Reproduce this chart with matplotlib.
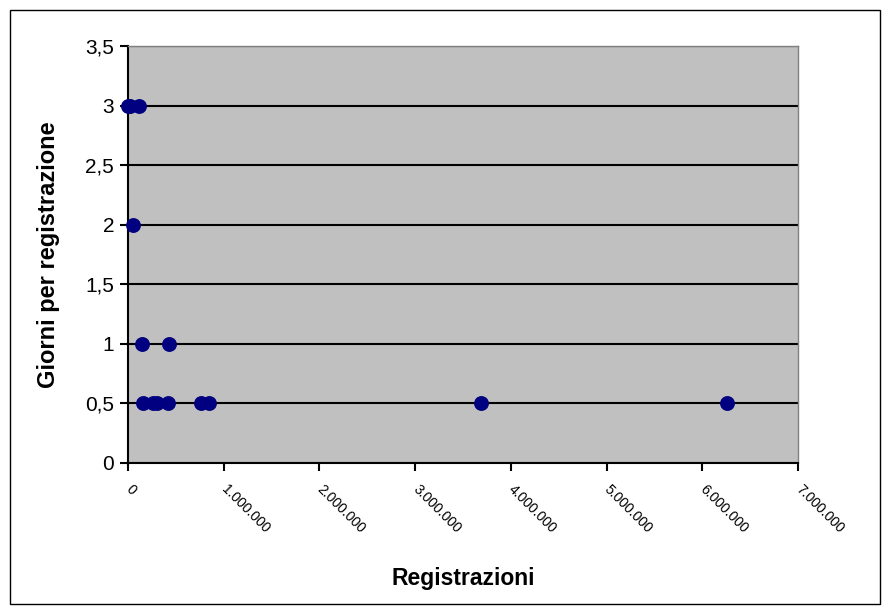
import matplotlib
matplotlib.use("Agg")
from matplotlib import pyplot as plt
from matplotlib.patches import Rectangle
from matplotlib.ticker import FuncFormatter, MultipleLocator
from matplotlib.transforms import ScaledTranslation

# registrations vs days per registration
registrazioni = [0, 20000, 120000, 50000, 150000, 430000,
                 160000, 260000, 300000, 420000, 760000, 850000,
                 3690000, 6260000]
giorni = [3, 3, 3, 2, 1, 1,
          0.5, 0.5, 0.5, 0.5, 0.5, 0.5,
          0.5, 0.5]

plt.rcParams['font.family'] = ['Liberation Sans', 'DejaVu Sans']

fig = plt.figure(figsize=(8.82, 6.06), dpi=100)
ax = fig.add_axes([0.1451, 0.2360, 0.7596, 0.6881])

# outer chart frame
fig.patches.append(Rectangle((10 / 882, 2 / 606), 870 / 882, 594 / 606,
                             transform=fig.transFigure, fill=False,
                             edgecolor='black', linewidth=1.0))

ax.set_facecolor('#c0c0c0')
ax.scatter(registrazioni, giorni, s=115, color='#000080', zorder=3,
           clip_on=False, linewidths=0)

ax.set_xlim(0, 7000000)
ax.set_ylim(0, 3.5)
ax.xaxis.set_major_locator(MultipleLocator(1000000))
ax.yaxis.set_major_locator(MultipleLocator(0.5))
ax.xaxis.set_major_formatter(FuncFormatter(lambda v, p: f"{int(v):,}".replace(',', '.')))
ax.yaxis.set_major_formatter(FuncFormatter(lambda v, p: f"{v:g}".replace('.', ',')))

ax.grid(axis='y', color='black', linewidth=1.5)
ax.set_axisbelow(True)

for side in ['top', 'right']:
    ax.spines[side].set_color('#808080')
    ax.spines[side].set_linewidth(1.0)
for side in ['left', 'bottom']:
    ax.spines[side].set_color('black')
    ax.spines[side].set_linewidth(1.5)

ax.tick_params(axis='y', direction='out', length=6, width=1.5, labelsize=15, pad=4)
ax.tick_params(axis='x', direction='out', length=6, width=1.5, labelsize=10, pad=8)
shift = ScaledTranslation(5 / 100, 0, fig.dpi_scale_trans)
for lbl in ax.get_xticklabels():
    lbl.set_rotation(-45)
    lbl.set_ha('left')
    lbl.set_va('top')
    lbl.set_rotation_mode('anchor')
    lbl.set_transform(lbl.get_transform() + shift)

ax.set_xlabel("Registrazioni", fontsize=16.5, fontweight='bold')
ax.set_ylabel("Giorni per registrazione", fontsize=17, fontweight='bold')
ax.xaxis.set_label_coords(0.5, -0.276)
ax.yaxis.set_label_coords(-0.119, 0.5)
ax.xaxis.label.set_va('center')
ax.yaxis.label.set_va('center')

fig.savefig("out.png", dpi=100)
